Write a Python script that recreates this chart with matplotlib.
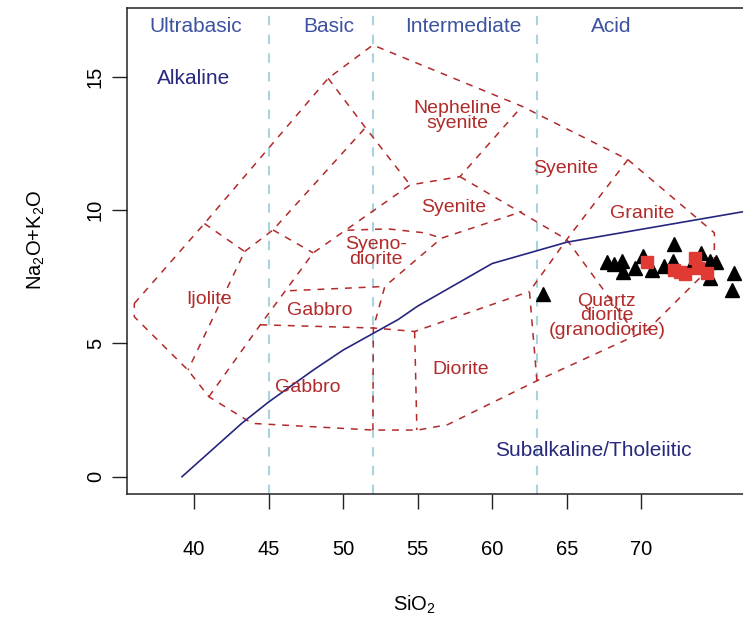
import matplotlib
matplotlib.use('Agg')
import matplotlib.pyplot as plt

# ---------------- data -----------------
# samples (SiO2, Na2O+K2O)
tri_sio2 = [63.4, 67.7, 68.2, 68.7, 68.8, 69.6, 70.1, 70.7, 71.5, 72.1, 72.2, 73.5, 74.0, 74.6, 75.0, 74.6, 76.2, 76.1]
tri_alk = [6.85, 8.05, 8.0, 8.1, 7.7, 7.85, 8.3, 7.75, 7.9, 8.1, 8.75, 8.05, 8.4, 8.1, 8.05, 7.45, 7.65, 7.0]
sq_sio2 = [70.35, 72.2, 72.6, 72.9, 73.6, 73.8, 74.4]
sq_alk = [8.05, 7.75, 7.7, 7.6, 8.2, 7.85, 7.65]

# Irvine & Baragar alkaline/subalkaline divide
ib_x = [39.2, 40, 43.2, 45, 48, 50, 53.7, 55, 60, 65, 77.4]
ib_y = [0, 0.4, 2, 2.8, 4, 4.75, 5.9, 6.4, 8, 8.8, 10]

# silica class limits
class_lims = [45, 52, 63]
class_names = ['Ultrabasic', 'Basic', 'Intermediate', 'Acid']
class_pos = [40.1, 49.05, 58.05, 67.95]

# field boundaries (plutonic TAS, Cox et al. / Wilson)
outer_x = [36.0, 40.7, 49.0, 52.0, 62.0, 69.1, 74.9, 74.9, 70.4, 63.0, 57.0, 55.0, 52.0, 43.9, 41.0, 39.6, 36.0, 36.0]
outer_y = [6.5, 9.5, 14.95, 16.2, 13.9, 11.9, 9.15, 8.0, 5.5, 3.6, 1.95, 1.75, 1.75, 2.0, 3.0, 4.0, 6.0, 6.5]
ijol_x = [40.7, 43.4, 39.6]
ijol_y = [9.5, 8.45, 4.0]
b1_x = [43.4, 45.3, 51.5]
b1_y = [8.45, 9.26, 13.1]
b2_x = [49.0, 51.5, 54.5]
b2_y = [14.95, 13.1, 10.95]
b3_x = [45.3, 48.0]
b3_y = [9.26, 8.4]
b4_x = [41.0, 44.45, 48.0, 54.5, 57.84, 62.0]
b4_y = [3.0, 5.7, 8.4, 10.95, 11.26, 13.9]
b5_x = [57.84, 65.0, 69.5]
b5_y = [11.26, 8.9, 5.45]
b6_x = [69.1, 65.0, 62.5, 63.0]
b6_y = [11.9, 8.9, 6.95, 3.6]
b7_x = [44.45, 52.03, 54.8, 62.5]
b7_y = [5.7, 5.58, 5.45, 6.95]
b8_x = [52.0, 52.03, 52.8, 56.6, 62.0]
b8_y = [1.75, 5.58, 7.14, 8.95, 9.95]
b9_x = [46.44, 52.8]
b9_y = [6.98, 7.14]
b10_x = [50.3, 53.0, 55.5, 56.6]
b10_y = [9.25, 9.3, 9.15, 8.95]
b11_x = [54.8, 54.95]
b11_y = [5.45, 1.75]

field_names = ['Ijolite', 'Gabbro', 'Gabbro', 'Syeno-\ndiorite', 'Nepheline\nsyenite', 'Syenite',
               'Syenite', 'Granite', 'Diorite', 'Quartz\ndiorite\n(granodiorite)']
field_x = [41.0, 48.45, 47.6, 52.2, 57.65, 57.45, 64.95, 70.05, 57.9, 67.7]
field_y = [6.64, 6.23, 3.34, 8.44, 13.54, 10.09, 11.55, 9.86, 4.01, 6.04]

# ---------------- plot -----------------
plt.rcParams['font.family'] = ['Liberation Sans', 'DejaVu Sans']
plt.rcParams['mathtext.fontset'] = 'custom'
plt.rcParams['mathtext.rm'] = 'Liberation Sans'
plt.rcParams['mathtext.it'] = 'Liberation Sans:italic'

fig = plt.figure(figsize=(7.43, 6.18), dpi=100)
ax = fig.add_axes([127 / 743, 124 / 618, 623 / 743, 486 / 618])
ax.set_xlim(35.51, 77.29)
ax.set_ylim(-0.65, 17.59)

red = '#B22A2A'
dash = (0, (4.5, 4.5))
for xs, ys in [(outer_x, outer_y), (ijol_x, ijol_y), (b1_x, b1_y), (b2_x, b2_y), (b3_x, b3_y),
               (b4_x, b4_y), (b5_x, b5_y), (b6_x, b6_y), (b7_x, b7_y), (b8_x, b8_y),
               (b9_x, b9_y), (b10_x, b10_y), (b11_x, b11_y)]:
    ax.plot(xs, ys, color=red, lw=1.1, linestyle=dash, zorder=2)

for v in class_lims:
    ax.axvline(v, color='#A9D4DF', lw=1.5, linestyle=(0, (4.5, 4.5)), zorder=1)

ax.plot(ib_x, ib_y, color='#26267E', lw=1.2, zorder=3)

for name, x in zip(class_names, class_pos):
    ax.text(x, 16.88, name, color='#3D52A1', fontsize=15, ha='center', va='center')
ax.text(40.0, 14.93, 'Alkaline', color='#28287E', fontsize=15, ha='center', va='center')
ax.text(66.8, 0.98, 'Subalkaline/Tholeiitic', color='#28287E', fontsize=15, ha='center', va='center')

for name, x, y in zip(field_names, field_x, field_y):
    ax.text(x, y, name, color=red, fontsize=14, ha='center', va='center', linespacing=0.82)

ax.plot(tri_sio2, tri_alk, linestyle='none', marker='^', ms=10.5, color='black', zorder=4)
ax.plot(sq_sio2, sq_alk, linestyle='none', marker='s', ms=8.5, color='#E03A32', zorder=5)

ax.set_xticks([40, 45, 50, 55, 60, 65, 70])
ax.set_yticks([0, 5, 10, 15])
ax.tick_params(axis='both', direction='out', length=11, width=1, labelsize=14.5, color='#222222')
ax.tick_params(axis='x', pad=22)
ax.tick_params(axis='y', pad=5, labelrotation=90)
for lab in ax.get_yticklabels():
    lab.set_va('center')
ax.spines['right'].set_visible(False)
for s in ['left', 'top', 'bottom']:
    ax.spines[s].set_linewidth(1.1)
    ax.spines[s].set_color('#222222')

ax.set_xlabel('SiO$_2$', fontsize=14.5)
ax.xaxis.set_label_coords((414 - 127) / 623, -(605 - 494) / 486)
ax.set_ylabel('Na$_2$O+K$_2$O', fontsize=14.5)
ax.yaxis.set_label_coords(-(127 - 36) / 623, (494 - 240) / 486)
ax.yaxis.label.set_va('center')
ax.xaxis.label.set_va('center')

fig.savefig('out.png', dpi=100)
